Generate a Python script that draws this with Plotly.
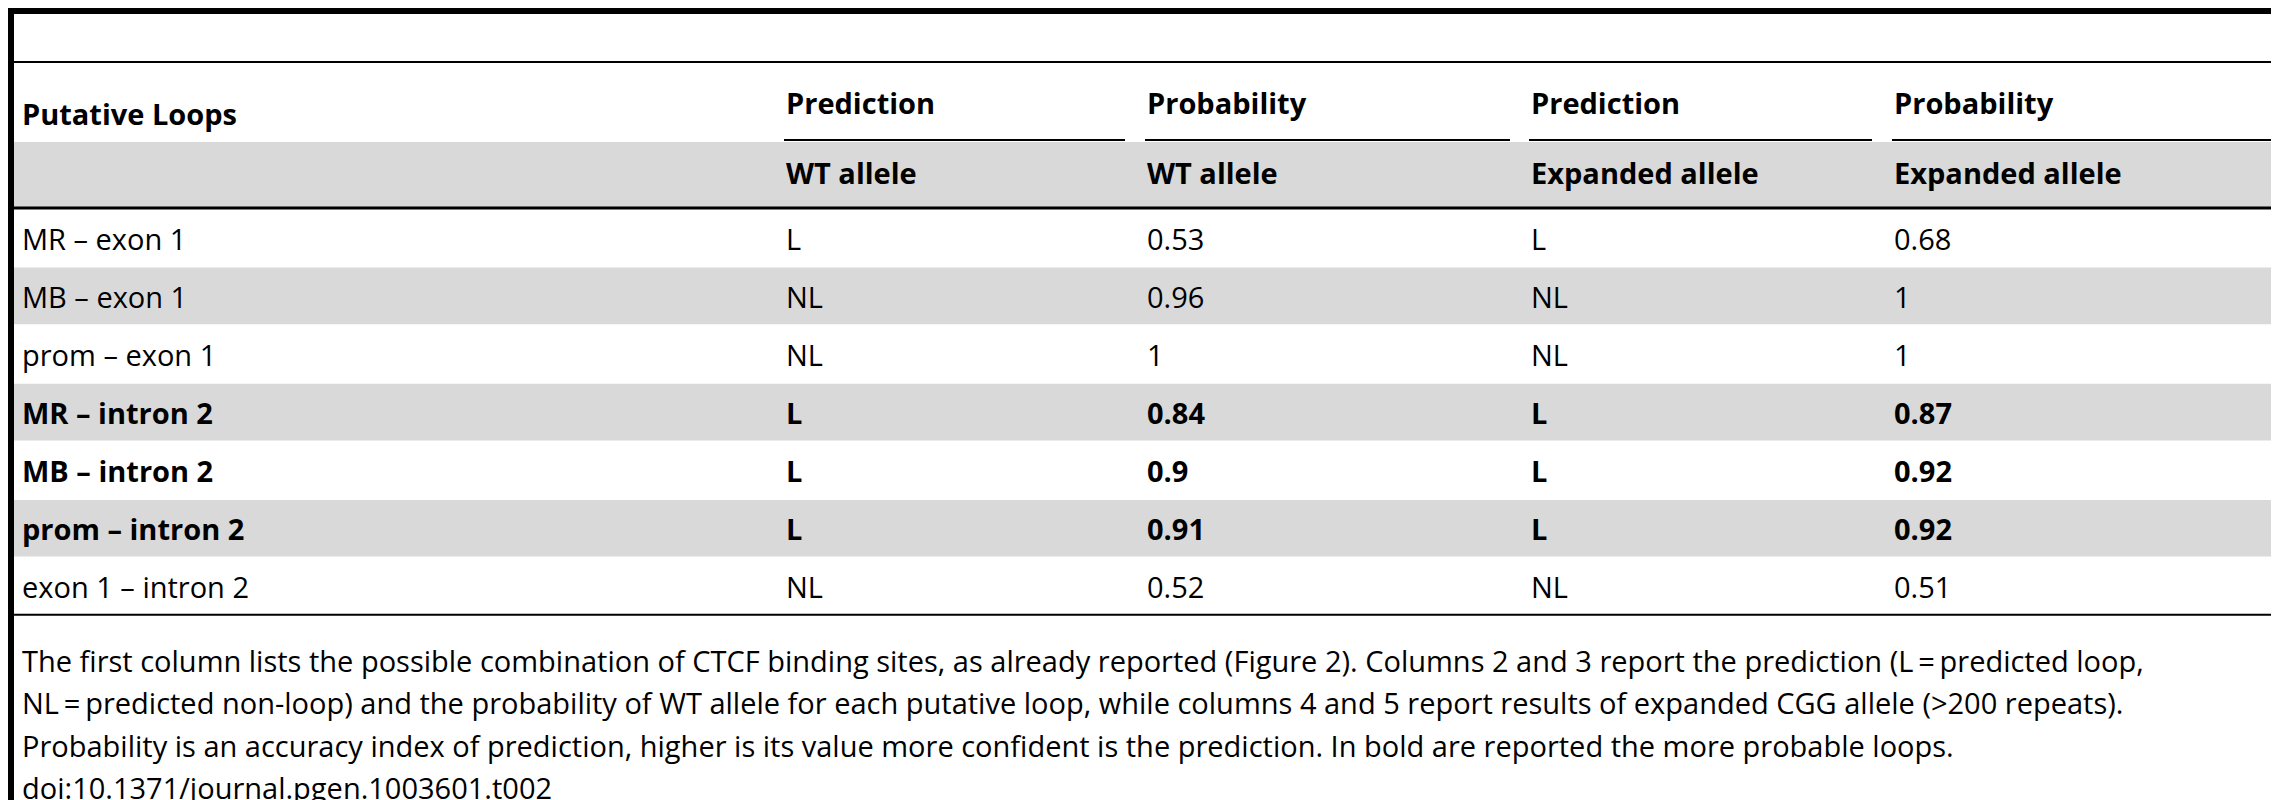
import plotly.graph_objects as go

loops = ["MR – exon 1", "MB – exon 1", "prom – exon 1", "MR – intron 2",
         "MB – intron 2", "prom – intron 2", "exon 1 – intron 2"]
pred_wt = ["L", "NL", "NL", "L", "L", "L", "NL"]
prob_wt = ["0.53", "0.96", "1", "0.84", "0.9", "0.91", "0.52"]
pred_exp = ["L", "NL", "NL", "L", "L", "L", "NL"]
prob_exp = ["0.68", "1", "1", "0.87", "0.92", "0.92", "0.51"]
bold_rows = [False, False, False, True, True, True, False]

head1 = ["Putative Loops", "Prediction", "Probability", "Prediction", "Probability"]
head2 = ["", "WT allele", "WT allele", "Expanded allele", "Expanded allele"]

caption = [
    "The first column lists the possible combination of CTCF binding sites, as already reported (Figure 2). Columns 2 and 3 report the prediction (L\u2009=\u2009predicted loop,",
    "NL\u2009=\u2009predicted non-loop) and the probability of WT allele for each putative loop, while columns 4 and 5 report results of expanded CGG allele (>200 repeats).",
    "Probability is an accuracy index of prediction, higher is its value more confident is the prediction. In bold are reported the more probable loops.",
    "doi:10.1371/journal.pgen.1003601.t002",
]

W, H = 2279, 800
col_x = [12, 776, 1137, 1521, 1884]
col_end = [None, 1117, 1502, 1864, 2279]
row_top, row_h = 200, 58.1
gray = "#d9d9d9"
font = dict(family="Open Sans", size=29, color="black")

fig = go.Figure()
shapes = []
ann = []

# frame lines
shapes.append(dict(type="rect", x0=0, x1=W, y0=0, y1=6, fillcolor="black", line_width=0))
shapes.append(dict(type="rect", x0=0, x1=6, y0=0, y1=H, fillcolor="black", line_width=0))
shapes.append(dict(type="line", x0=6, x1=W, y0=54, y1=54, line=dict(color="black", width=2)))

# header
shapes.append(dict(type="rect", x0=6, x1=W, y0=134, y1=200, fillcolor=gray, line_width=0, layer="below"))
for i in range(1, 5):
    shapes.append(dict(type="line", x0=col_x[i], x1=col_end[i], y0=132, y1=132,
                       line=dict(color="black", width=2)))
shapes.append(dict(type="line", x0=6, x1=W, y0=200, y1=200, line=dict(color="black", width=3)))
ann.append(dict(x=col_x[0], y=105, text="<b>" + head1[0] + "</b>"))
for i in range(1, 5):
    ann.append(dict(x=col_x[i], y=94, text="<b>" + head1[i] + "</b>"))
    ann.append(dict(x=col_x[i], y=164, text="<b>" + head2[i] + "</b>"))

# body rows
for r in range(len(loops)):
    y0 = row_top + r * row_h
    if r % 2 == 1:
        shapes.append(dict(type="rect", x0=6, x1=W, y0=y0 + 1.5, y1=y0 + row_h,
                           fillcolor=gray, line_width=0, layer="below"))
    cells = [loops[r], pred_wt[r], prob_wt[r], pred_exp[r], prob_exp[r]]
    for c, t in enumerate(cells):
        ann.append(dict(x=col_x[c], y=y0 + row_h / 2 + 1,
                        text="<b>" + t + "</b>" if bold_rows[r] else t))
bottom = row_top + len(loops) * row_h
shapes.append(dict(type="line", x0=6, x1=W, y0=bottom, y1=bottom, line=dict(color="black", width=2)))

# caption
for k, line in enumerate(caption):
    ann.append(dict(x=col_x[0], y=652 + k * 42.5, text=line.replace(">", "&gt;")))

for a in ann:
    a.update(xref="x", yref="y", xanchor="left", yanchor="middle", showarrow=False, font=font)

fig.update_layout(
    width=W, height=H, margin=dict(l=0, r=0, t=0, b=0),
    paper_bgcolor="white", plot_bgcolor="white",
    xaxis=dict(range=[0, W], visible=False, fixedrange=True),
    yaxis=dict(range=[H, 0], visible=False, fixedrange=True),
    shapes=shapes, annotations=ann, showlegend=False,
)
fig.write_html("out.html")
